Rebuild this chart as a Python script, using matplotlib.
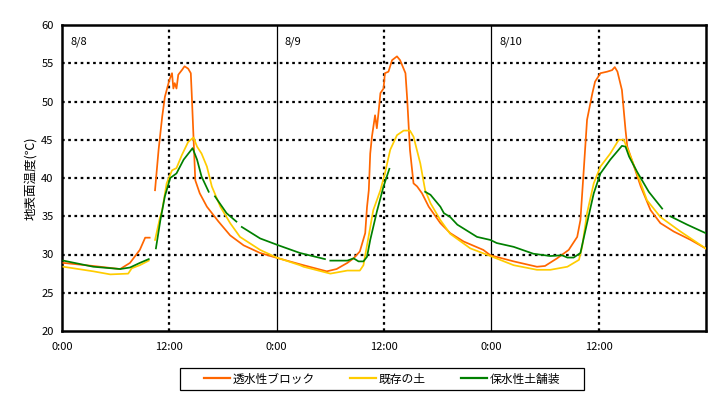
import matplotlib.pyplot as plt
from matplotlib.patches import Rectangle
import numpy as np

plt.rcParams['font.family'] = ['Noto Sans CJK JP', 'DejaVu Sans']

nan = np.nan

# 透水性ブロック (hours from 8/8 0:00, surface temperature)
block_h = [0.15, 3.5, 6.5, 7.6, 8.7, 9.3, 9.8, 10.1, 10.4, 10.8, 11.2, 11.5, 12.0, 12.3, 12.45,
           12.6, 12.8, 13.0, 13.4, 13.7, 14.1, 14.4, 14.5, 14.7, 14.9, 15.4, 16.2, 17.5, 18.8,
           20.3, 22.15, 24.2, 27.0, 29.6, 30.7, 31.9, 32.6, 33.3, 33.9, 34.1, 34.3, 34.46, 34.65,
           35.0, 35.2, 35.4, 35.6, 35.95, 36.1, 36.5, 36.9, 37.45, 37.8, 38.4, 38.6, 38.9, 39.3,
           39.7, 40.25, 41.0, 42.3, 43.4, 44.9, 47.1, 47.9, 50.5, 53.1, 54.0, 55.35, 56.65, 57.6,
           57.96, 58.33, 58.7, 59.3, 59.6, 60.2, 60.95, 61.5, 61.8, 62.1, 62.6, 63.0, 63.2, 63.7,
           64.7, 65.8, 66.9, 68.4, 70.3, 71.95]
block_t = [28.9, 28.5, 28.1, 28.9, 30.6, 32.2, 32.2, nan, 38.4, 43.7, 48.0, 50.6, 52.8, 53.7, 51.7,
           52.4, 51.7, 53.5, 54.1, 54.6, 54.3, 53.7, 51.1, 45.4, 39.7, 38.0, 36.25, 34.3, 32.5,
           31.2, 30.2, 29.5, 28.6, 27.8, 28.1, 28.9, 29.5, 30.4, 32.8, 36.2, 38.4, 43.2, 45.4,
           48.2, 46.5, 48.7, 51.1, 51.7, 53.7, 53.9, 55.4, 55.9, 55.4, 53.7, 50.2, 43.7, 39.3,
           38.9, 38.0, 36.25, 34.1, 32.8, 31.7, 30.6, 29.9, 29.1, 28.4, 28.5, 29.5, 30.6, 32.3,
           34.5, 41.0, 47.6, 51.1, 52.6, 53.7, 53.9, 54.1, 54.5, 53.9, 51.5, 46.3, 44.1, 42.4,
           38.9, 35.8, 34.1, 33.0, 31.9, 30.8]

# 既存の土
soil_h = [0.15, 3.5, 5.4, 7.4, 7.8, 8.7, 9.7, 10.0, 10.4, 10.97, 11.2, 11.7, 12.3, 12.8, 13.4,
          14.1, 14.7, 15.1, 15.6, 16.2, 16.75, 17.7, 18.8, 19.9, 22.15, 24.0, 26.6, 27.0, 30.0,
          31.9, 33.3, 33.7, 34.3, 34.8, 35.6, 36.1, 36.7, 37.45, 38.2, 38.9, 39.3, 40.06, 40.6,
          41.2, 42.3, 43.4, 45.65, 47.9, 50.5, 53.1, 54.6, 56.5, 57.8, 58.15, 58.7, 59.45, 60.2,
          61.3, 62.25, 62.8, 63.36, 64.3, 65.4, 66.9, 69.15, 71.95]
soil_t = [28.4, 27.8, 27.4, 27.5, 28.2, 28.6, 29.2, nan, 31.9, 34.9, 35.8, 39.3, 41.0, 41.3, 43.0,
          44.7, 45.3, 44.1, 43.2, 41.5, 38.9, 36.25, 34.1, 32.3, 30.6, 29.6, 28.6, 28.4, 27.5,
          27.9, 27.9, 28.6, 32.5, 35.8, 38.4, 40.6, 43.7, 45.6, 46.2, 46.2, 45.4, 41.9, 38.4,
          36.7, 34.5, 32.7, 30.8, 29.8, 28.6, 28.0, 28.0, 28.4, 29.3, 31.0, 35.4, 39.3, 41.5,
          43.2, 45.0, 45.0, 43.4, 40.6, 37.1, 34.9, 33.0, 30.8]

# 保水性土舗装
paving_h = [0.15, 3.5, 6.5, 7.6, 8.7, 9.7, 10.0, 10.5, 11.0, 11.5, 12.1, 12.8, 13.6, 14.6, 15.1,
            15.6, 16.4, 16.7, 17.1, 18.4, 18.8, 19.5, 19.8, 20.1, 22.15, 24.2, 26.6, 29.4, 29.7,
            30.0, 31.9, 32.6, 33.15, 33.7, 34.1, 34.46, 35.2, 35.95, 36.6, 38.0, 40.6, 41.2, 42.3,
            42.7, 43.4, 44.2, 46.4, 47.9, 48.6, 50.5, 52.7, 54.6, 55.9, 56.5, 57.2, 57.96, 58.7,
            59.45, 60.2, 61.3, 62.6, 63.0, 63.4, 64.3, 65.6, 67.1, 67.5, 68.0, 69.9, 71.95]
paving_t = [29.2, 28.4, 28.1, 28.3, 28.9, 29.4, nan, 30.8, 34.5, 37.6, 40.0, 40.6, 42.4, 43.9, 42.4,
            40.2, 38.2, nan, 37.6, 35.4, 35.0, 34.3, nan, 33.6, 32.1, 31.2, 30.2, 29.4, nan,
            29.2, 29.2, 29.5, 29.1, 29.1, 29.7, 31.9, 35.6, 38.9, 41.2, nan, 38.2, 37.8, 36.25,
            35.4, 34.9, 33.9, 32.3, 31.9, 31.5, 31.0, 30.1, 29.8, 29.9, 29.6, 29.6, 30.2, 34.1,
            38.0, 40.6, 42.4, 44.2, 44.1, 42.8, 40.8, 38.2, 36.0, nan, 35.0, 33.9, 32.8]

series_names = ['透水性ブロック', '既存の土', '保水性土舗装']
day_labels = ['8/8', '8/9', '8/10']
xtick_pos = [0, 12, 24, 36, 48, 60]
xtick_labels = ['0:00', '12:00', '0:00', '12:00', '0:00', '12:00']
yticks = [20, 25, 30, 35, 40, 45, 50, 55, 60]

colors = ['#FF6600', '#FFCC00', '#008000']

fig = plt.figure(figsize=(7.21, 3.99), dpi=100)
ax = fig.add_axes([62 / 721, 1 - 331 / 399, 644 / 721, 306 / 399])

for yv in yticks[1:-1]:
    ax.axhline(yv, color='black', linestyle=(0, (1.2, 1.6)), linewidth=1.6, zorder=1)
for xv in [12, 36, 60]:
    ax.axvline(xv, color='black', linestyle=(0, (1.2, 1.6)), linewidth=1.6, zorder=1)
for xv in [24, 48]:
    ax.axvline(xv, color='black', linewidth=0.9, zorder=1)

data = [(block_h, block_t), (soil_h, soil_t), (paving_h, paving_t)]
for (h, t), name, c in zip(data, series_names, colors):
    ax.plot(h, t, color=c, linewidth=1.25, label=name, zorder=3)

for i, lab in enumerate(day_labels):
    ax.text(i * 24 + 0.9, 57.8, lab, fontsize=8, va='center', ha='left')

ax.set_xlim(0, 72)
ax.set_ylim(20, 60)
ax.set_xticks(xtick_pos)
ax.set_xticklabels(xtick_labels)
ax.set_yticks(yticks)
ax.tick_params(length=0, labelsize=8, pad=8)
ax.tick_params(axis='y', pad=6)
for s in ax.spines.values():
    s.set_linewidth(1.8)
ax.set_ylabel('地表面温度(℃)', fontsize=9, labelpad=3)

# legend without its own frame; a wider box is drawn behind it
leg = fig.legend(loc='center', bbox_to_anchor=(382 / 721, 1 - 379 / 399), ncol=3,
                 fontsize=8.5, frameon=False,
                 handlelength=2.2, handletextpad=0.2, columnspacing=3.0,
                 borderpad=0.2, borderaxespad=0)
for line in leg.get_lines():
    line.set_linewidth(1.6)
fig.patches.append(Rectangle((180 / 721, 1 - 390 / 399), 404 / 721, 22 / 399,
                             transform=fig.transFigure, fill=False,
                             edgecolor='black', linewidth=0.9))

fig.savefig('out.png', dpi=100)
